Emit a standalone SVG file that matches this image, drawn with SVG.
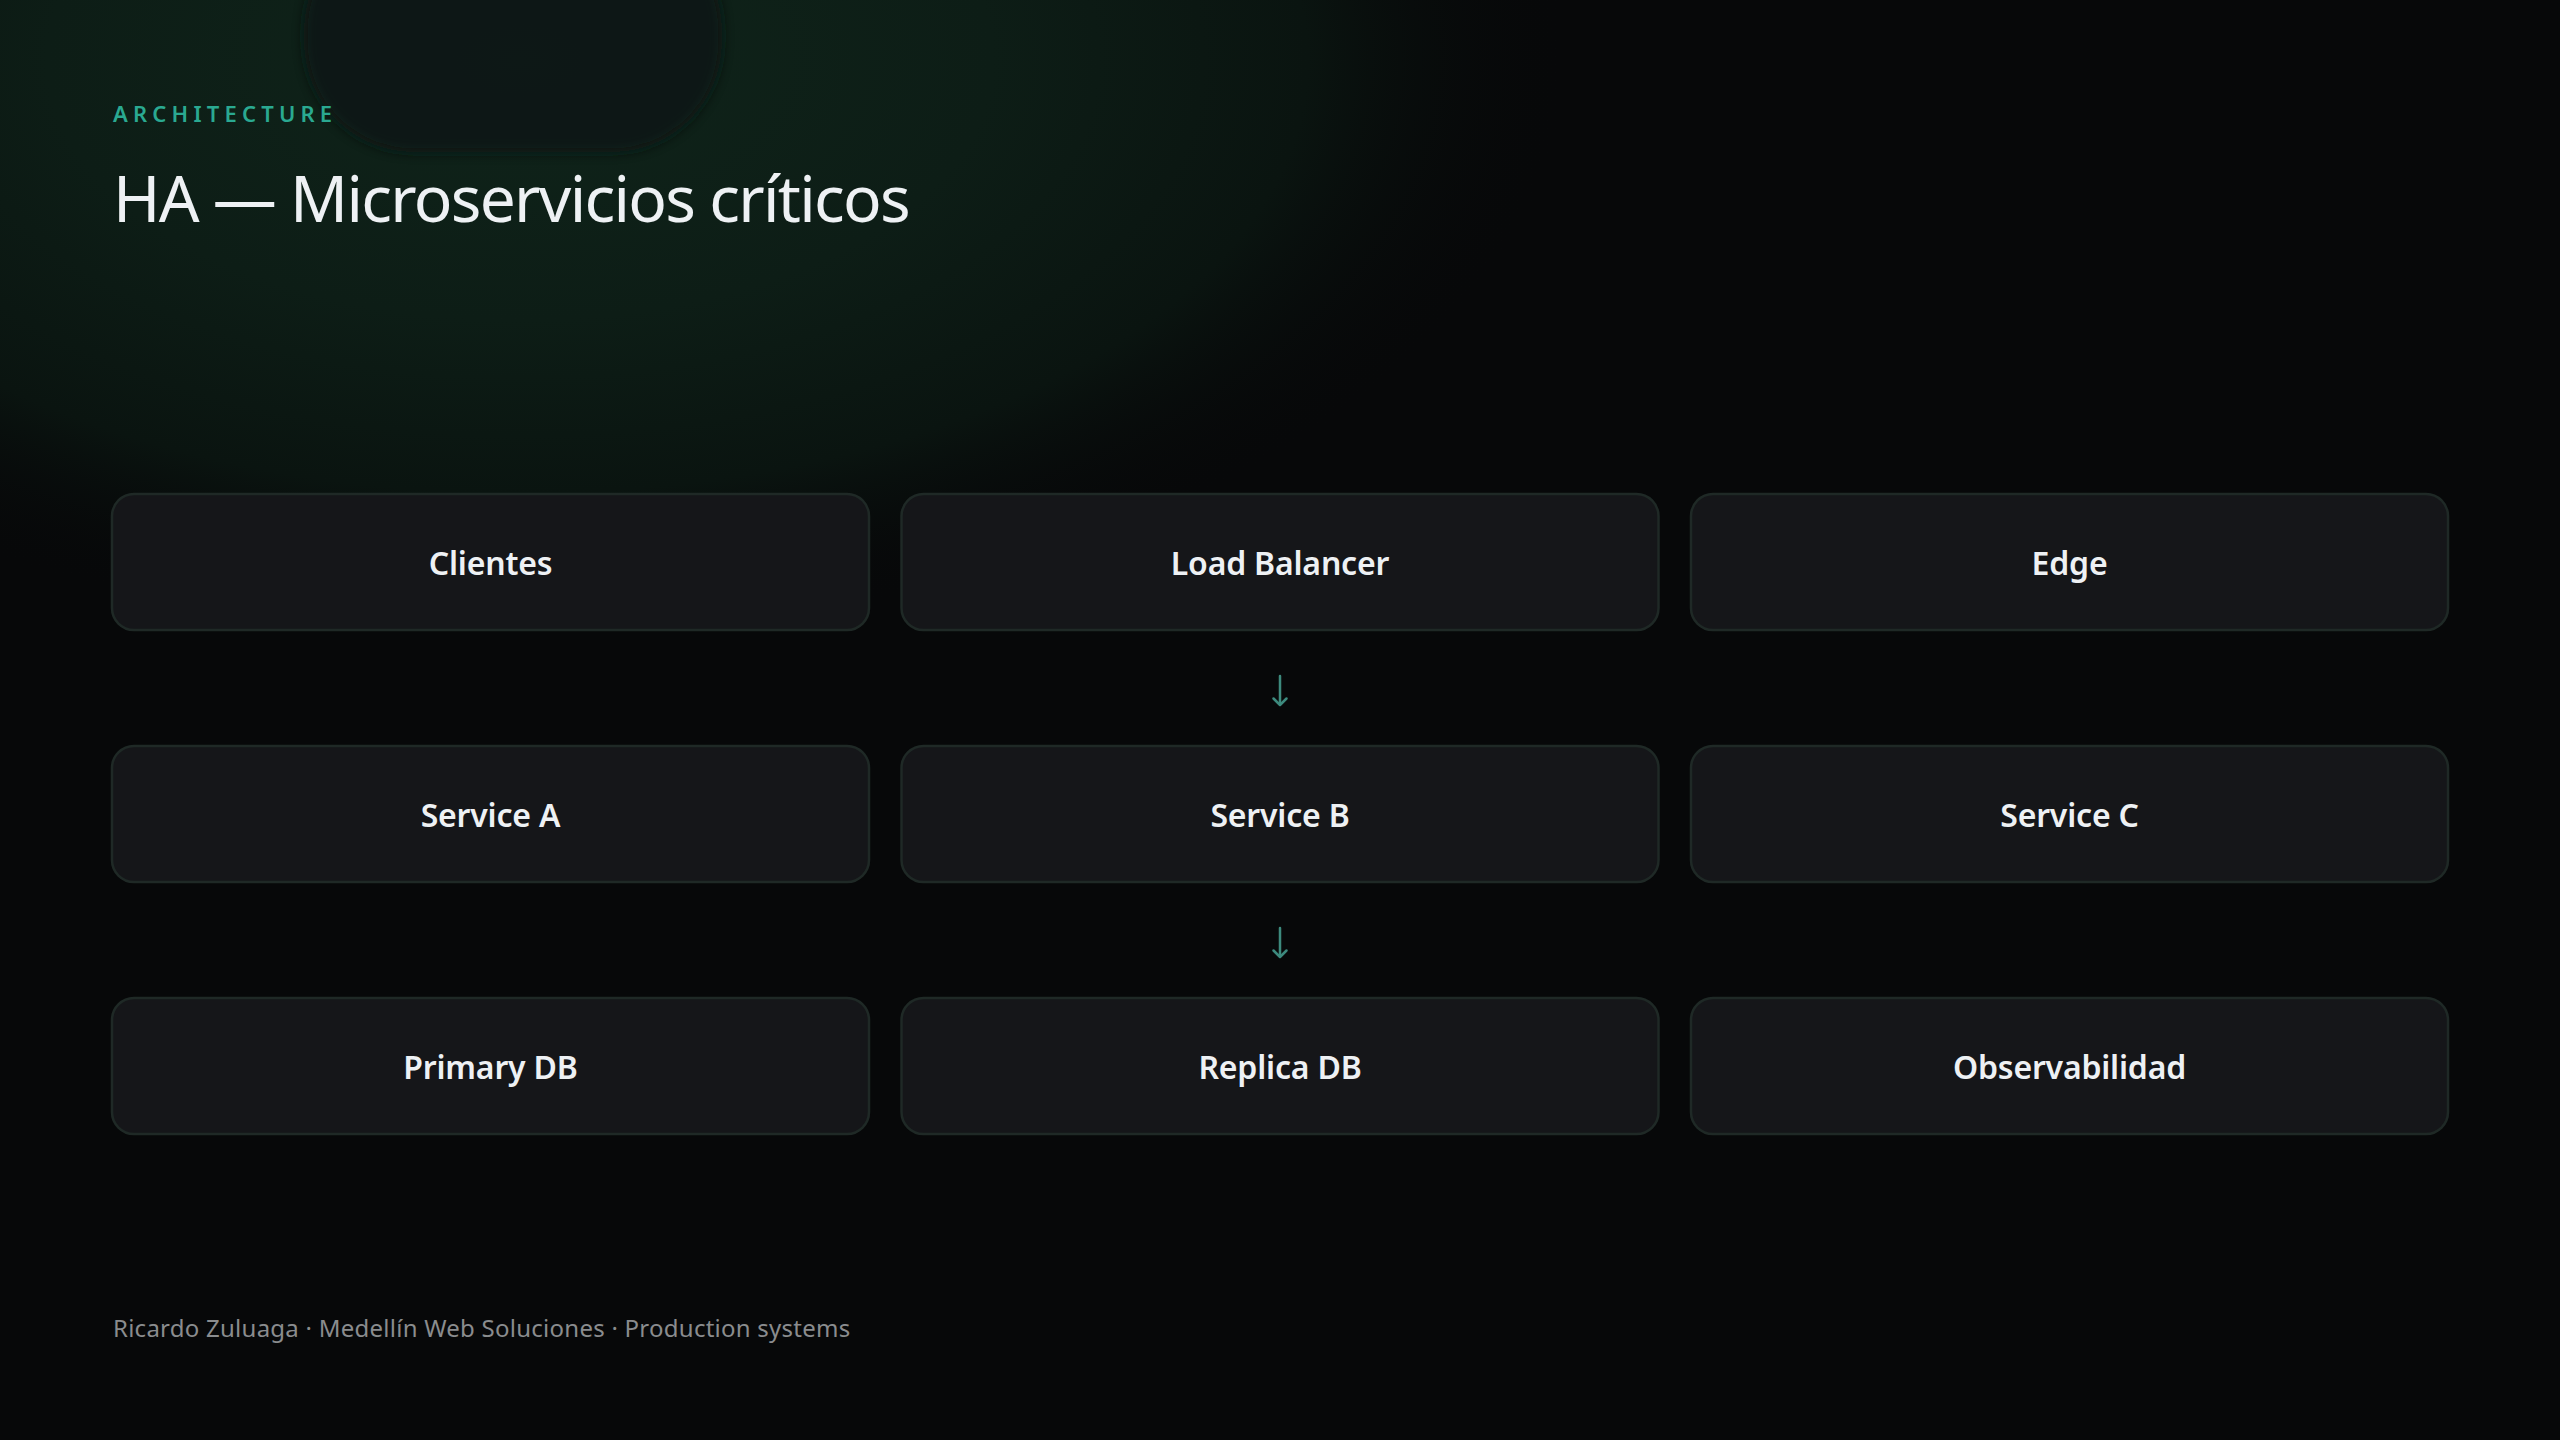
<svg xmlns="http://www.w3.org/2000/svg" width="2560" height="1440" viewBox="0 0 2560 1440">
  <defs>
    <radialGradient id="glow" gradientUnits="userSpaceOnUse" cx="520" cy="60" r="1050" gradientTransform="translate(520 60) scale(1 0.55) translate(-520 -60)">
      <stop offset="0" stop-color="#0f241a"/>
      <stop offset="0.45" stop-color="#0d1d16"/>
      <stop offset="0.75" stop-color="#0a1410"/>
      <stop offset="1" stop-color="#070809" stop-opacity="0"/>
    </radialGradient>
    <filter id="blur" x="-30%" y="-30%" width="160%" height="160%">
      <feGaussianBlur stdDeviation="6"/>
    </filter>
    <style>
      .node rect { fill: #151619; stroke: #1f2926; stroke-width: 2.5; }
      .node text { font-family: "Noto Sans", "Open Sans", sans-serif; font-weight: 600; font-size: 32px; letter-spacing: -0.2px; fill: #eef1f4; text-anchor: middle; }
      .conn { stroke: #3d8a7e; stroke-width: 2.5; fill: none; stroke-linecap: round; stroke-linejoin: round; }
    </style>
  </defs>

  <rect x="0" y="0" width="2560" height="1440" fill="#070809"/>
  <rect x="0" y="0" width="2560" height="1440" fill="url(#glow)"/>
  <rect x="304" y="-80" width="418" height="232" rx="110" fill="#0b1812" opacity="0.85" filter="url(#blur)"/>

  <text x="113" y="122" font-family="Noto Sans, Open Sans, sans-serif" font-weight="600" font-size="22" letter-spacing="5.2" fill="#2aa991">ARCHITECTURE</text>
  <text x="113" y="222" font-family="Noto Sans, Open Sans, sans-serif" font-weight="400" font-size="64" letter-spacing="-1.7" fill="#eef1f4">HA — Microservicios críticos</text>

  <g id="connectors">
    <g id="conn-lb-sb">
      <path class="conn" d="M1280 676 L1280 704"/>
      <path class="conn" d="M1273.5 698.5 L1280 705 L1286.5 698.5"/>
    </g>
    <g id="conn-sb-rdb">
      <path class="conn" d="M1280 928 L1280 956"/>
      <path class="conn" d="M1273.5 950.5 L1280 957 L1286.5 950.5"/>
    </g>
  </g>

  <g id="node-clientes" class="node">
    <rect x="112" y="494" width="757" height="136" rx="22"/>
    <text x="490.5" y="575">Clientes</text>
  </g>
  <g id="node-load-balancer" class="node">
    <rect x="901.5" y="494" width="757" height="136" rx="22"/>
    <text x="1280" y="575">Load Balancer</text>
  </g>
  <g id="node-edge" class="node">
    <rect x="1691" y="494" width="757" height="136" rx="22"/>
    <text x="2069.5" y="575">Edge</text>
  </g>

  <g id="node-service-a" class="node">
    <rect x="112" y="746" width="757" height="136" rx="22"/>
    <text x="490.5" y="827">Service A</text>
  </g>
  <g id="node-service-b" class="node">
    <rect x="901.5" y="746" width="757" height="136" rx="22"/>
    <text x="1280" y="827">Service B</text>
  </g>
  <g id="node-service-c" class="node">
    <rect x="1691" y="746" width="757" height="136" rx="22"/>
    <text x="2069.5" y="827">Service C</text>
  </g>

  <g id="node-primary-db" class="node">
    <rect x="112" y="998" width="757" height="136" rx="22"/>
    <text x="490.5" y="1079">Primary DB</text>
  </g>
  <g id="node-replica-db" class="node">
    <rect x="901.5" y="998" width="757" height="136" rx="22"/>
    <text x="1280" y="1079">Replica DB</text>
  </g>
  <g id="node-observabilidad" class="node">
    <rect x="1691" y="998" width="757" height="136" rx="22"/>
    <text x="2069.5" y="1079">Observabilidad</text>
  </g>

  <text x="113" y="1337" font-family="Noto Sans, Open Sans, sans-serif" font-weight="400" font-size="24" letter-spacing="0.25" fill="#8a8c8e">Ricardo Zuluaga · Medellín Web Soluciones · Production systems</text>
</svg>
